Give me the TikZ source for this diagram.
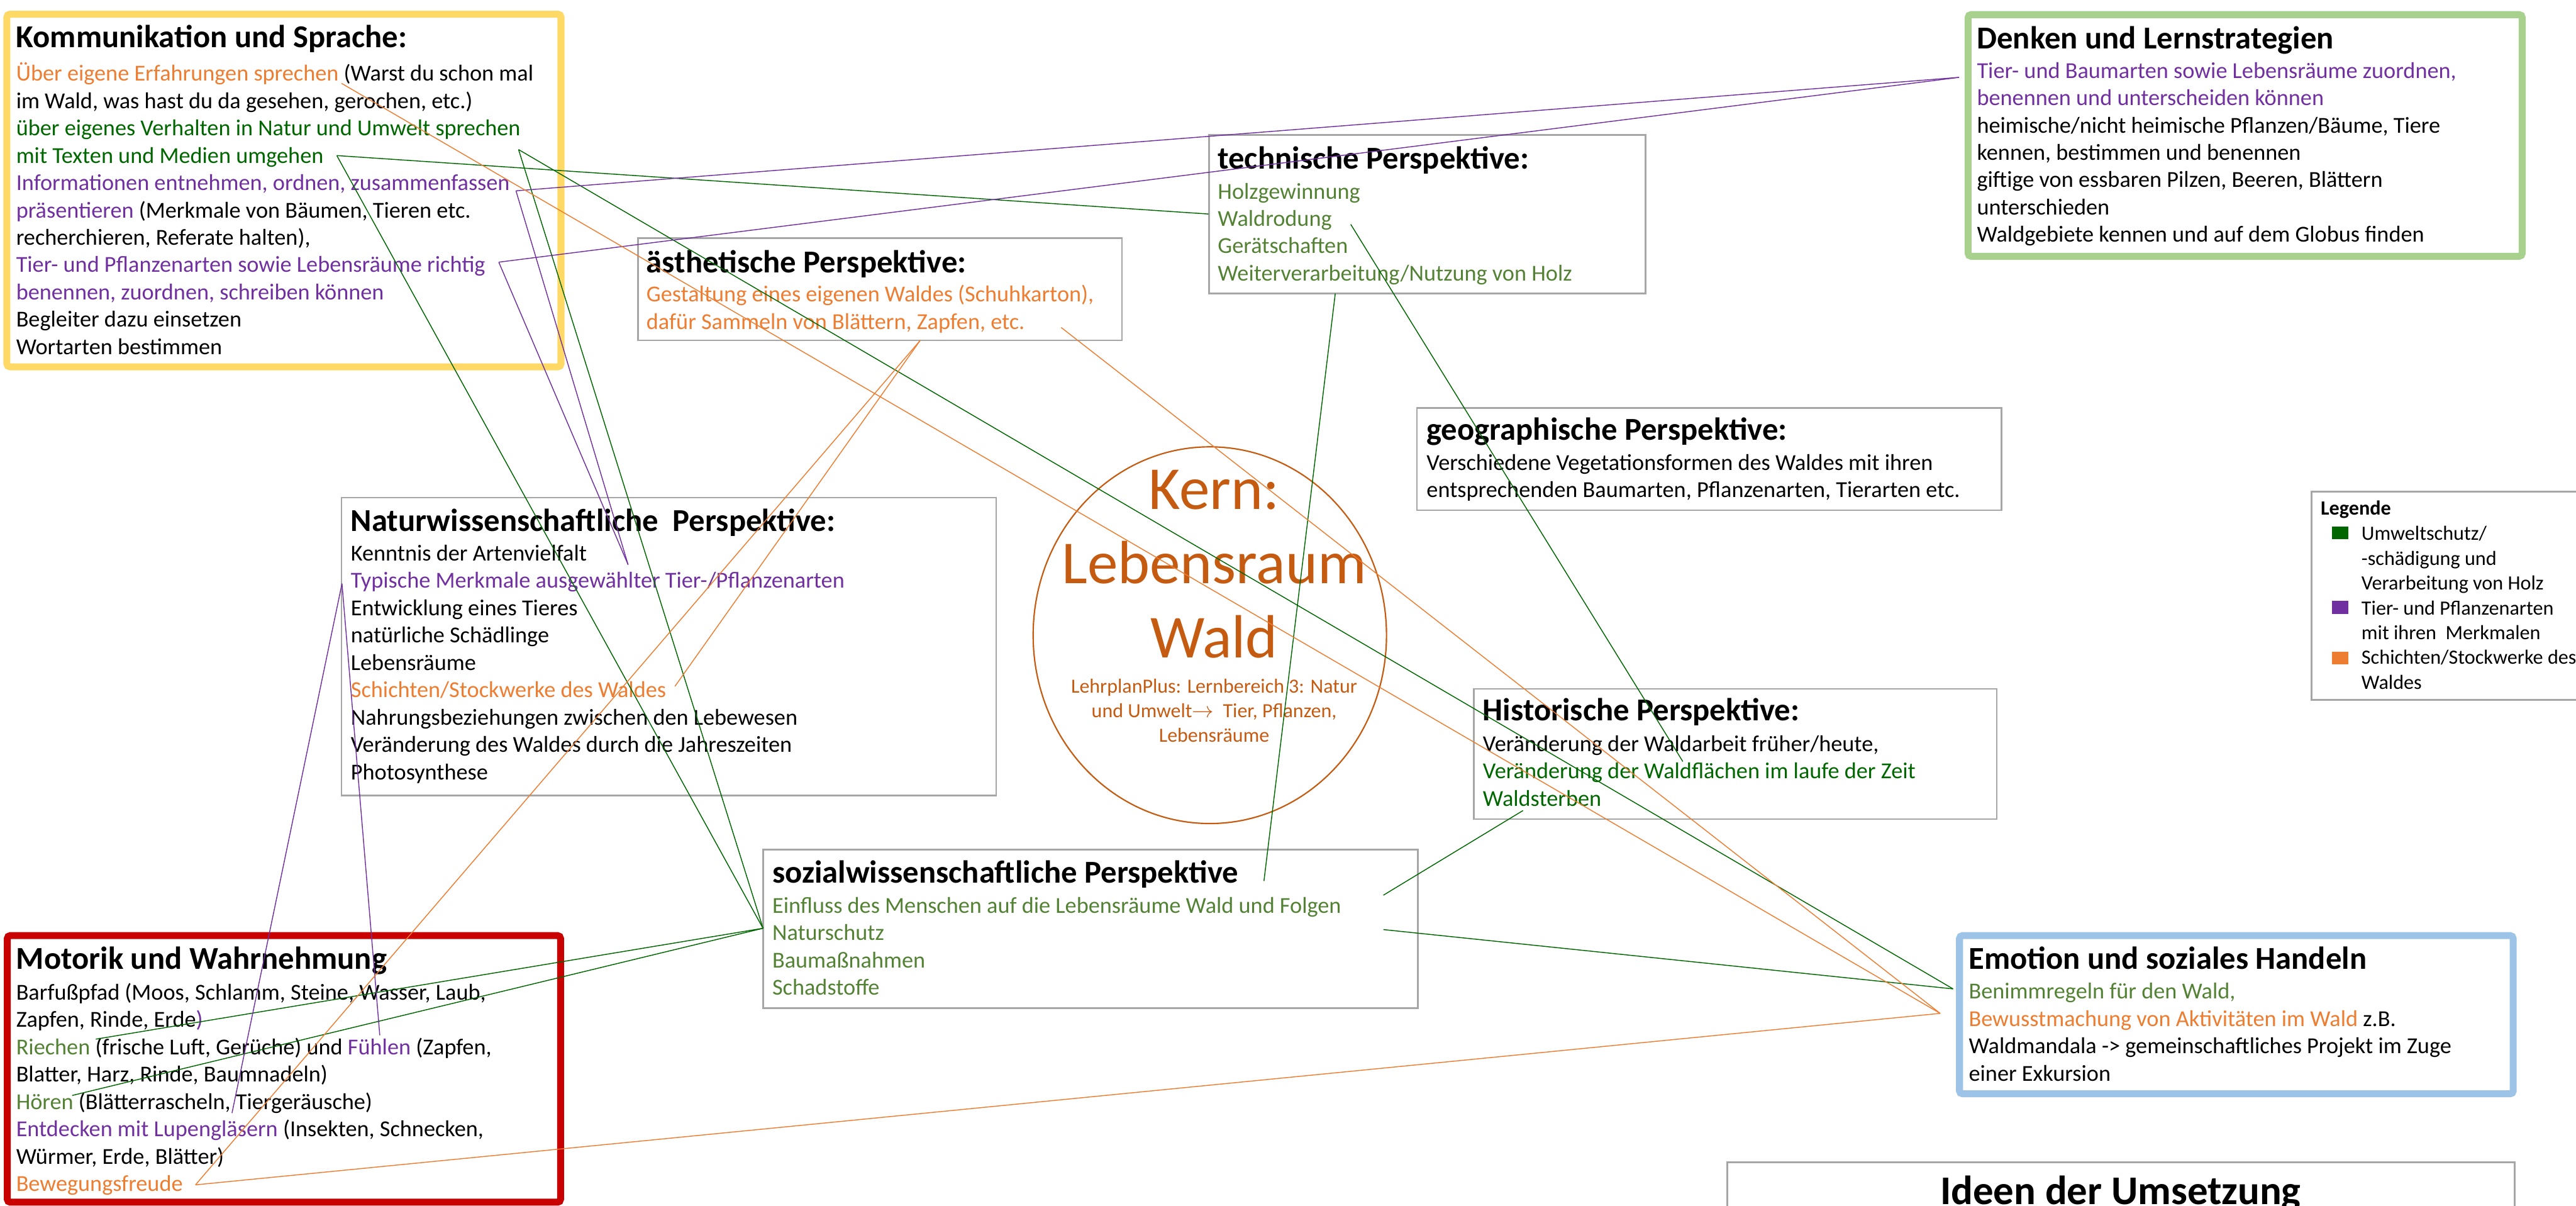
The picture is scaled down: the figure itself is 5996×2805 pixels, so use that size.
\documentclass[tikz,border=0pt]{standalone}
\usepackage{fontspec}
\setmainfont{Carlito}
\usepackage{tikz}
\usetikzlibrary{calc,positioning,shapes.geometric}
\definecolor{lila}{RGB}{112,48,160}
\definecolor{orangeT}{RGB}{237,125,49}
\definecolor{dgruen}{RGB}{0,102,0}
\definecolor{ogruen}{RGB}{84,130,53}
\definecolor{kernrot}{RGB}{197,90,17}
\definecolor{randgrau}{RGB}{166,166,166}
\definecolor{randgelb}{RGB}{255,217,102}
\definecolor{randgruen}{RGB}{169,209,142}
\definecolor{randblau}{RGB}{157,195,230}
\definecolor{randrot}{RGB}{200,0,0}
\tikzset{
  kasten/.style={draw=randgrau, line width=1.1pt, inner sep=0pt, outer sep=0pt, anchor=north west},
  dickrand/.style={kasten, line width=4.6pt, rounded corners=2pt},
  titel/.style={anchor=base west, inner sep=0pt, font=\fontsize{21.1}{25}\selectfont\bfseries},
  rumpf/.style={anchor=north west, inner sep=0pt, align=left, font=\fontsize{15.1}{18.1}\selectfont,
    execute at begin node={\rule{0pt}{15pt}}},
  vbg/.style={line width=0.6pt, dgruen},
  vbl/.style={line width=0.6pt, lila},
  vbo/.style={line width=0.6pt, orangeT},
}

\begin{document}
\begin{tikzpicture}[x=0.01cm, y=-0.01cm]
  \useasboundingbox (0,0) rectangle (5996,2805);
  \clip (0,0) rectangle (5996,2805);

  \node[dickrand, draw=randgelb, minimum width=12.89cm, minimum height=8.20cm] (kom) at (16,33) {};
  \node[dickrand, draw=randgruen, minimum width=12.89cm, minimum height=5.62cm] (denk) at (4581,34) {};
  \node[dickrand, draw=randblau, minimum width=12.88cm, minimum height=3.68cm] (emo) at (4561,2177) {};
  \node[dickrand, draw=randrot, minimum width=12.87cm, minimum height=6.20cm] (mot) at (17,2177) {};
  \node[kasten, minimum width=10.16cm, minimum height=3.69cm] (tech) at (2814,314) {};
  \node[kasten, minimum width=11.26cm, minimum height=2.38cm] (aest) at (1485,554) {};
  \node[kasten, minimum width=13.60cm, minimum height=2.38cm] (geo) at (3298,949) {};
  \node[kasten, minimum width=12.16cm, minimum height=3.03cm] (hist) at (3431,1603) {};
  \node[kasten, minimum width=15.23cm, minimum height=6.93cm] (natur) at (795,1158) {};
  \node[kasten, minimum width=15.23cm, minimum height=3.69cm] (sozial) at (1776,1977) {};
  \node[kasten, minimum width=7.20cm, minimum height=4.84cm] (leg) at (5380,1144) {};
  \node[kasten, minimum width=18.32cm, minimum height=2.00cm] (ideen) at (4020,2704) {};
  \node[ellipse, draw=kernrot, line width=0.9pt, minimum width=8.22cm, minimum height=8.76cm] (kern) at (2816,1478) {};

  \node[titel] (komtitel) at ($(kom.north west)+(21,78)$) {Kommunikation und Sprache:};
  \node[rumpf] (komtext) at ($(kom.north west)+(21,112)$) {\textcolor{orangeT}{Über eigene Erfahrungen sprechen} (Warst du schon mal\\
    im Wald, was hast du da gesehen, gerochen, etc.)\\
    \textcolor{dgruen}{über eigenes Verhalten in Natur und Umwelt sprechen}\\
    \textcolor{dgruen}{mit Texten und Medien umgehen}\\
    \textcolor{lila}{Informationen entnehmen, ordnen, zusammenfassen}\\
    \textcolor{lila}{präsentieren} (Merkmale von Bäumen, Tieren etc.\\
    recherchieren, Referate halten),\\
    \textcolor{lila}{Tier- und Pflanzenarten sowie Lebensräume richtig}\\
    \textcolor{lila}{benennen, zuordnen, schreiben können}\\
    Begleiter dazu einsetzen\\
    Wortarten bestimmen};

  \node[titel] (denktitel) at ($(denk.north west)+(20,79)$) {Denken und Lernstrategien};
  \node[rumpf] (denktext) at ($(denk.north west)+(20,110)$) {\textcolor{lila}{Tier- und Baumarten sowie Lebensräume zuordnen,}\\
    \textcolor{lila}{benennen und unterscheiden können}\\
    heimische/nicht heimische Pflanzen/Bäume, Tiere\\
    kennen, bestimmen und benennen\\
    giftige von essbaren Pilzen, Beeren, Blättern\\
    unterschieden\\
    Waldgebiete kennen und auf dem Globus finden};

  \node[titel] (techtitel) at ($(tech.north west)+(20,79)$) {technische Perspektive:};
  \node[rumpf, text=ogruen] (techtext) at ($(tech.north west)+(20,111)$) {Holzgewinnung\\Waldrodung\\Gerätschaften\\Weiterverarbeitung/Nutzung von Holz};

  \node[titel] (aesttitel) at ($(aest.north west)+(19,80)$) {ästhetische Perspektive:};
  \node[rumpf, text=orangeT] (aesttext) at ($(aest.north west)+(19,109)$) {Gestaltung eines eigenen Waldes (Schuhkarton),\\dafür Sammeln von Blättern, Zapfen, etc.};

  \node[titel] (geotitel) at ($(geo.north west)+(22,75)$) {geographische Perspektive:};
  \node[rumpf] (geotext) at ($(geo.north west)+(22,107)$) {Verschiedene Vegetationsformen des Waldes mit ihren\\entsprechenden Baumarten, Pflanzenarten, Tierarten etc.};

  \node[titel] (histtitel) at ($(hist.north west)+(20,74)$) {Historische Perspektive:};
  \node[rumpf] (histtext) at ($(hist.north west)+(20,108)$) {Veränderung der Waldarbeit früher/heute,\\
    \textcolor{dgruen}{Veränderung der Waldflächen im laufe der Zeit}\\
    \textcolor{dgruen}{Waldsterben}};

  \node[titel] (naturtitel) at ($(natur.north west)+(21,78)$) {Naturwissenschaftliche\ \ Perspektive:};
  \node[rumpf] (naturtext) at ($(natur.north west)+(21,109)$) {Kenntnis der Artenvielfalt\\
    \textcolor{lila}{Typische Merkmale ausgewählter Tier-/Pflanzenarten}\\
    Entwicklung eines Tieres\\
    natürliche Schädlinge\\
    Lebensräume\\
    \textcolor{orangeT}{Schichten/Stockwerke des Waldes}\\
    Nahrungsbeziehungen zwischen den Lebewesen\\
    Veränderung des Waldes durch die Jahreszeiten\\
    Photosynthese};

  \node[titel] (sozialtitel) at ($(sozial.north west)+(21,78)$) {sozialwissenschaftliche Perspektive};
  \node[rumpf, text=ogruen] (sozialtext) at ($(sozial.north west)+(21,110)$) {Einfluss des Menschen auf die Lebensräume Wald und Folgen\\Naturschutz\\Baumaßnahmen\\Schadstoffe};

  \node[titel] (emotitel) at ($(emo.north west)+(21,78)$) {Emotion und soziales Handeln};
  \node[rumpf] (emotext) at ($(emo.north west)+(21,110)$) {\textcolor{ogruen}{Benimmregeln für den Wald,}\\
    \textcolor{orangeT}{Bewusstmachung von Aktivitäten im Wald} z.B.\\
    Waldmandala -> gemeinschaftliches Projekt im Zuge\\
    einer Exkursion};

  \node[titel] (mottitel) at ($(mot.north west)+(20,78)$) {Motorik und Wahrnehmung};
  \node[rumpf] (mottext) at ($(mot.north west)+(20,110)$) {Barfußpfad (Moos, Schlamm, Steine, Wasser, Laub,\\
    Zapfen, Rinde, Erde\textcolor{lila}{)}\\
    \textcolor{ogruen}{Riechen} (frische Luft, Gerüche) und \textcolor{lila}{Fühlen} (Zapfen,\\
    Blatter, Harz, Rinde, Baumnadeln)\\
    \textcolor{ogruen}{Hören} (Blätterrascheln, Tiergeräusche)\\
    \textcolor{lila}{Entdecken mit Lupengläsern} (Insekten, Schnecken,\\
    Würmer, Erde, Blätter)\\
    \textcolor{orangeT}{Bewegungsfreude}};

  \node[anchor=north, inner sep=0pt, align=center, text=kernrot, font=\fontsize{40.4}{49.2}\selectfont] (kerntitel) at (2826,1043) {\rule{0pt}{40pt}Kern:\\Lebensraum\\Wald};
  \node[anchor=north, inner sep=0pt, align=center, text=kernrot, font=\fontsize{13.3}{16.2}\selectfont] (kerntext) at (2826,1566) {\rule{0pt}{13pt}LehrplanPlus: Lernbereich 3: Natur\\und Umwelt$\rightarrow$\ \ Tier, Pflanzen,\\Lebensräume};

  \node[titel, font=\fontsize{13.4}{16.4}\selectfont\bfseries] (legtitel) at ($(leg.north west)+(21,54)$) {Legende};
  \node[rumpf, font=\fontsize{13.4}{16.4}\selectfont] (legtext) at ($(leg.north west)+(116,80)$) {Umweltschutz/\\-schädigung und\\Verarbeitung von Holz\\Tier- und Pflanzenarten\\mit ihren\ \ Merkmalen\\Schichten/Stockwerke des\\Waldes};
  \fill[dgruen] (5428,1225) rectangle (5466,1255);
  \fill[lila] (5428,1398) rectangle (5466,1428);
  \fill[orangeT] (5428,1516) rectangle (5466,1546);

  \node[anchor=base, inner sep=0pt, font=\fontsize{27}{32}\selectfont\bfseries] (ideentitel) at (4936,2803) {Ideen der Umsetzung};

  \coordinate (ks-erf) at (795,194);
  \coordinate (ks-verh) at (1207,348);
  \coordinate (ks-medien) at (784,362);
  \coordinate (ks-info) at (1201,444);
  \coordinate (ks-tier) at (1161,610);
  \coordinate (dl-tier) at (4560,180);
  \coordinate (tp-links) at (2813,498);
  \coordinate (tp-rodung) at (3144,522);
  \coordinate (tp-unten) at (3108,683);
  \coordinate (ap-etc) at (2470,762);
  \coordinate (ap-unten) at (2142,792);
  \coordinate (nw-merk) at (1462,1314);
  \coordinate (nw-links) at (796,1358);
  \coordinate (nw-schicht) at (1571,1597);
  \coordinate (hp-arbeit) at (3917,1772);
  \coordinate (hp-sterben) at (3545,1886);
  \coordinate (sw-links) at (1776,2160);
  \coordinate (sw-titel) at (2942,2050);
  \coordinate (sw-oben) at (3220,2083);
  \coordinate (sw-rechts) at (3220,2163);
  \coordinate (eh-gruen) at (4546,2301);
  \coordinate (eh-orange) at (4516,2358);
  \coordinate (mw-riechen) at (223,2418);
  \coordinate (mw-fuehlen) at (884,2409);
  \coordinate (mw-hoeren) at (168,2549);
  \coordinate (mw-lupe) at (540,2590);
  \coordinate (mw-freude) at (455,2757);

  \draw[vbg] (ks-medien) -- (tp-links);
  \draw[vbg] (ks-verh) -- (eh-gruen);
  \draw[vbg] (ks-medien) -- (sw-links);
  \draw[vbg] (ks-verh) -- (sw-links);
  \draw[vbg] (mw-riechen) -- (sw-links);
  \draw[vbg] (mw-hoeren) -- (sw-links);
  \draw[vbg] (tp-unten) -- (sw-titel);
  \draw[vbg] (tp-rodung) -- (hp-arbeit);
  \draw[vbg] (hp-sterben) -- (sw-oben);
  \draw[vbg] (sw-rechts) -- (eh-gruen);

  \draw[vbl] (ks-info) -- (dl-tier);
  \draw[vbl] (ks-tier) -- (dl-tier);
  \draw[vbl] (ks-info) -- (nw-merk);
  \draw[vbl] (ks-tier) -- (nw-merk);
  \draw[vbl] (nw-links) -- (mw-lupe);
  \draw[vbl] (nw-links) -- (mw-fuehlen);

  \draw[vbo] (ks-erf) -- (eh-orange);
  \draw[vbo] (ap-etc) -- (eh-orange);
  \draw[vbo] (ap-unten) -- (nw-schicht);
  \draw[vbo] (ap-unten) -- (mw-freude);
  \draw[vbo] (mw-freude) -- (eh-orange);
\end{tikzpicture}
\end{document}
